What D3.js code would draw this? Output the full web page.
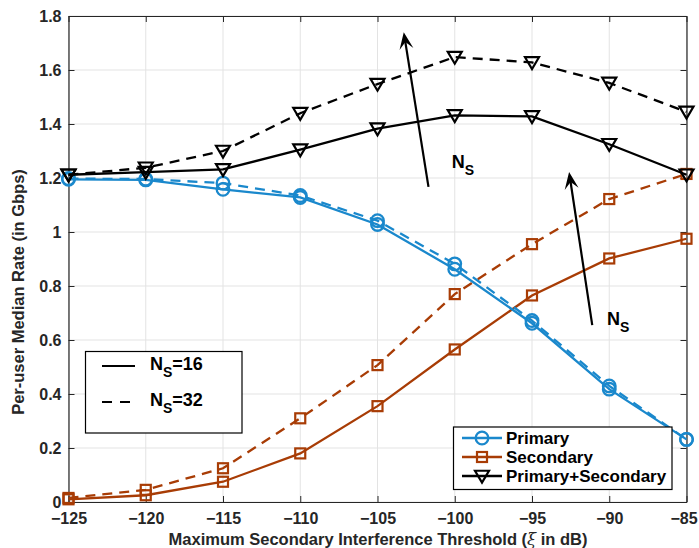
<!DOCTYPE html>
<html><head><meta charset="utf-8">
<script src="https://cdn.jsdelivr.net/npm/d3@7"></script>
<style>body{margin:0;background:#fff}svg{display:block;font-family:"Liberation Sans",Arial,sans-serif}</style>
</head><body><svg id="c" width="699" height="548"></svg>
<script>
const xValues = [-125, -120, -115, -110, -105, -100, -95, -90, -85];
const primary16 = [1.195, 1.193, 1.158, 1.128, 1.028, 0.862, 0.662, 0.418, 0.232];
const primary32 = [1.198, 1.196, 1.181, 1.135, 1.042, 0.882, 0.672, 0.43, 0.232];
const secondary16 = [0.01, 0.025, 0.075, 0.18, 0.355, 0.565, 0.765, 0.902, 0.975];
const secondary32 = [0.015, 0.045, 0.125, 0.31, 0.507, 0.77, 0.955, 1.122, 1.215];
const total16 = [1.212, 1.222, 1.232, 1.305, 1.383, 1.432, 1.428, 1.325, 1.212];
const total32 = [1.212, 1.238, 1.3, 1.44, 1.548, 1.648, 1.628, 1.552, 1.445];
const xTicks = [-125, -120, -115, -110, -105, -100, -95, -90, -85];
const yTicks = [0, 0.2, 0.4, 0.6, 0.8, 1, 1.2, 1.4, 1.6, 1.8];
const yTickLabels = ["0", "0.2", "0.4", "0.6", "0.8", "1", "1.2", "1.4", "1.6", "1.8"];
const seriesNames = ["Primary", "Secondary", "Primary+Secondary"];
const nsNames = ["16", "32"];
// arrows: [x0,y0,x1,y1] in data units (tail -> head)
const arrow1 = [-101.7, 1.167, -103.3, 1.74];
const arrow2 = [-91.1, 0.655, -92.6, 1.222];
const nsLabel1 = [-100.2, 1.237];
const nsLabel2 = [-90.15, 0.656];

const blue = "#1a88cc", orange = "#a83c05", black = "#000";
const svg = d3.select("#c");
const L = 68.5, R = 686.5, T = 16, B = 502;
const x = d3.scaleLinear().domain([-125, -85]).range([L, R]);
const y = d3.scaleLinear().domain([0, 1.8]).range([B, T]);

// grid
const g = svg.append("g");
g.selectAll(".gx").data(xTicks).join("line").attr("x1", d => x(d)).attr("x2", d => x(d))
  .attr("y1", T).attr("y2", B).attr("stroke", "#e3e3e3").attr("stroke-width", 1);
g.selectAll(".gy").data(yTicks).join("line").attr("y1", d => y(d)).attr("y2", d => y(d))
  .attr("x1", L).attr("x2", R).attr("stroke", "#e3e3e3").attr("stroke-width", 1);

// axes
const tickLen = 6;
const axB = svg.append("g").attr("transform", `translate(0,${B})`)
  .call(d3.axisBottom(x).tickValues(xTicks).tickSizeInner(-tickLen).tickSizeOuter(0).tickPadding(11));
const axT = svg.append("g").attr("transform", `translate(0,${T})`)
  .call(d3.axisTop(x).tickValues(xTicks).tickSizeInner(-tickLen).tickSizeOuter(0).tickFormat(""));
const axL = svg.append("g").attr("transform", `translate(${L},0)`)
  .call(d3.axisLeft(y).tickValues(yTicks).tickSizeInner(-tickLen).tickSizeOuter(0).tickPadding(7)
    .tickFormat((d, i) => yTickLabels[i]));
const axR = svg.append("g").attr("transform", `translate(${R},0)`)
  .call(d3.axisRight(y).tickValues(yTicks).tickSizeInner(-tickLen).tickSizeOuter(0).tickFormat(""));
[axB, axT, axL, axR].forEach(a => {
  a.select(".domain").attr("stroke", "#262626").attr("stroke-width", 1.2);
  a.selectAll(".tick line").attr("stroke", "#262626").attr("stroke-width", 1);
  a.selectAll("text").attr("fill", "#262626").attr("font-size", 16).attr("font-weight", "bold")
    .attr("font-family", "Liberation Sans, Arial, sans-serif");
});
axB.selectAll(".tick text").filter(d => d === -85).attr("dx", -3);

// lines
const line = d3.line().x((d, i) => x(xValues[i])).y(d => y(d));
function drawSeries(vals, color, dashed, marker) {
  svg.append("path").datum(vals).attr("d", line).attr("fill", "none").attr("stroke", color)
    .attr("stroke-width", 2.3).attr("stroke-dasharray", dashed ? "10,7" : null);
  const m = svg.append("g");
  vals.forEach((v, i) => drawMarker(m, x(xValues[i]), y(v), color, marker));
}
function drawMarker(sel, cx, cy, color, marker) {
  if (marker === "o") {
    sel.append("circle").attr("cx", cx).attr("cy", cy).attr("r", 6.3).attr("fill", "none")
      .attr("stroke", color).attr("stroke-width", 2.3);
  } else if (marker === "s") {
    sel.append("rect").attr("x", cx - 5).attr("y", cy - 5).attr("width", 10).attr("height", 10)
      .attr("fill", "none").attr("stroke", color).attr("stroke-width", 2.2);
  } else {
    const s = 7;
    sel.append("path").attr("d", `M${cx - s},${cy - s * 0.75}L${cx + s},${cy - s * 0.75}L${cx},${cy + s * 0.95}Z`)
      .attr("fill", "none").attr("stroke", color).attr("stroke-width", 2.2).attr("stroke-linejoin", "miter");
  }
}
drawSeries(secondary16, orange, false, "s");
drawSeries(secondary32, orange, true, "s");
drawSeries(primary16, blue, false, "o");
drawSeries(primary32, blue, true, "o");
drawSeries(total16, black, false, "v");
drawSeries(total32, black, true, "v");

// arrows
function drawArrow(a) {
  const x0 = x(a[0]), y0 = y(a[1]), x1 = x(a[2]), y1 = y(a[3]);
  const ang = Math.atan2(y1 - y0, x1 - x0);
  svg.append("line").attr("x1", x0).attr("y1", y0).attr("x2", x1 - 6 * Math.cos(ang)).attr("y2", y1 - 6 * Math.sin(ang))
    .attr("stroke", "#000").attr("stroke-width", 2.2);
  const hl = 17, hw = 7, notch = 10;
  const ux = Math.cos(ang), uy = Math.sin(ang), px = -uy, py = ux;
  const p = [[x1, y1],
    [x1 - hl * ux + hw * px, y1 - hl * uy + hw * py],
    [x1 - notch * ux, y1 - notch * uy],
    [x1 - hl * ux - hw * px, y1 - hl * uy - hw * py]];
  svg.append("path").attr("d", "M" + p.map(q => q.join(",")).join("L") + "Z").attr("fill", "#000");
}
drawArrow(arrow1);
drawArrow(arrow2);
function nsText(xx, yy, sub) {
  const t = svg.append("text").attr("x", xx).attr("y", yy).attr("font-size", 18).attr("font-weight", "bold").attr("fill", "#000");
  t.append("tspan").text("N");
  t.append("tspan").attr("dy", 7).attr("font-size", 14).text("S");
  if (sub) t.append("tspan").attr("dy", -7).text(sub);
  return t;
}
nsText(x(nsLabel1[0]), y(nsLabel1[1]));
nsText(x(nsLabel2[0]), y(nsLabel2[1]));

// legend 1 (NS)
svg.append("rect").attr("x", 85.5).attr("y", 351.5).attr("width", 156.5).attr("height", 81.5)
  .attr("fill", "#fff").attr("stroke", "#000").attr("stroke-width", 1.2);
[[366, false], [402, true]].forEach((r, i) => {
  svg.append("line").attr("x1", 102).attr("x2", 135).attr("y1", r[0]).attr("y2", r[0])
    .attr("stroke", "#000").attr("stroke-width", 2.2).attr("stroke-dasharray", r[1] ? "10,8" : null);
  nsText(150, r[0] + 3.5, "=" + nsNames[i]);
});

// legend 2
svg.append("rect").attr("x", 453.5).attr("y", 427).attr("width", 218.5).attr("height", 62.5)
  .attr("fill", "#fff").attr("stroke", "#000").attr("stroke-width", 1.2);
[[438, blue, "o"], [457, orange, "s"], [476, black, "v"]].forEach((r, i) => {
  svg.append("line").attr("x1", 462).attr("x2", 502).attr("y1", r[0]).attr("y2", r[0])
    .attr("stroke", r[1]).attr("stroke-width", 2.3);
  drawMarker(svg, 482, r[0], r[1], r[2]);
  svg.append("text").attr("x", 506).attr("y", r[0] + 6).attr("font-size", 17).attr("font-weight", "bold")
    .attr("fill", "#000").text(seriesNames[i]);
});

// axis titles
const xt = svg.append("text").attr("x", (L + R) / 2 + 0.5).attr("y", 545).attr("text-anchor", "middle")
  .attr("font-size", 16.5).attr("font-weight", "bold").attr("fill", "#262626");
xt.append("tspan").text("Maximum Secondary Interference Threshold (");
xt.append("tspan").attr("font-style", "italic").attr("font-family", "DejaVu Serif, serif").attr("font-weight", "normal").text("ξ");
xt.append("tspan").text(" in dB)");
svg.append("text").attr("transform", "translate(24,292) rotate(-90)").attr("text-anchor", "middle")
  .attr("font-size", 16.5).attr("font-weight", "bold").attr("fill", "#262626").text("Per-user Median Rate (in Gbps)");
</script></body></html>
